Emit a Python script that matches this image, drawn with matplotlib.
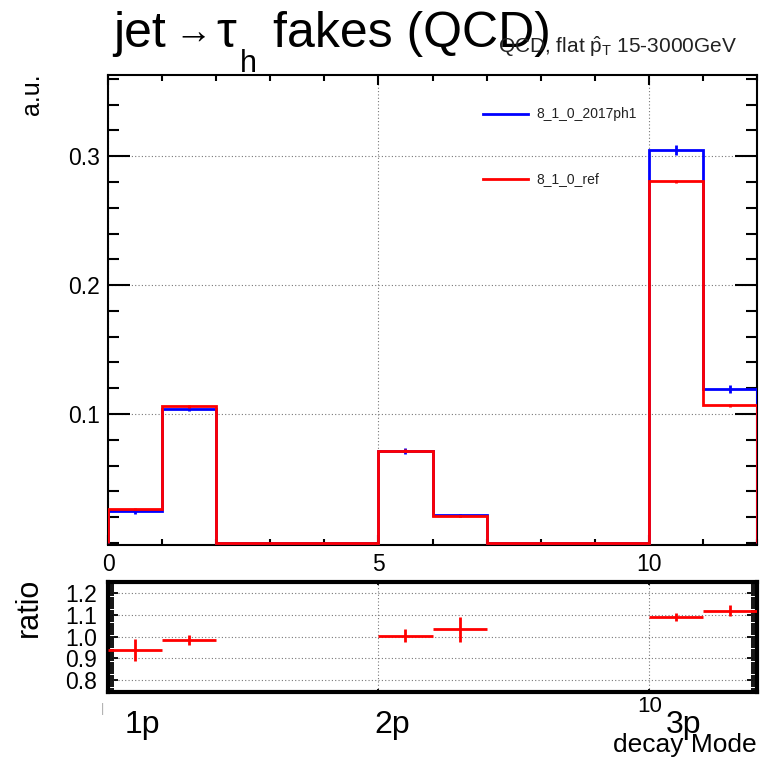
"""jet -> tau_h fakes (QCD): decay-mode comparison with ratio pad, ROOT-like look."""
import numpy as np
import matplotlib; matplotlib.use("Agg")
import matplotlib.pyplot as plt
from matplotlib.lines import Line2D
from matplotlib.ticker import MultipleLocator, FixedLocator

plt.rcParams["font.family"] = ["Liberation Sans", "DejaVu Sans"]
plt.rcParams["mathtext.fontset"] = "custom"
plt.rcParams["mathtext.rm"] = "Liberation Sans"
plt.rcParams["mathtext.it"] = "Liberation Sans"

# ── data ──
edges = np.arange(13)                       # decay mode bins 0..12
new_vals = [0.0246, 0.104, 0, 0, 0, 0.0715, 0.0214, 0, 0, 0, 0.305, 0.1195]
new_errs = [0.002, 0.002, 0, 0, 0, 0.0025, 0.001, 0, 0, 0, 0.004, 0.003]
ref_vals = [0.0264, 0.106, 0, 0, 0, 0.0715, 0.0208, 0, 0, 0, 0.2805, 0.1067]
ref_errs = [0.0008, 0.001, 0, 0, 0, 0.001, 0.0008, 0, 0, 0, 0.0012, 0.0012]
ratio_x = [0.5, 1.5, 5.5, 6.5, 10.5, 11.5]
ratio_y = [0.939, 0.984, 1.003, 1.033, 1.089, 1.12]
ratio_err = [0.051, 0.025, 0.03, 0.057, 0.018, 0.027]
labels = ["8_1_0_2017ph1", "8_1_0_ref"]
BLUE, RED = "#0000ff", "#ff0000"

W, H = 764, 759
fx = lambda x: x / W
fy = lambda y: 1 - y / H

fig = plt.figure(figsize=(7.64, 7.59), dpi=100)
ax = fig.add_axes([fx(108), fy(544.5), fx(757) - fx(108), fy(75) - fy(544.5)])
rx = fig.add_axes([fx(108), fy(691.7), fx(757) - fx(108), fy(581.7) - fy(691.7)])

# ── main pad ──
centers = 0.5 * (edges[:-1] + edges[1:])
grid_kw = dict(color="#777777", ls=(0, (1, 2)), lw=0.8)
for vals, errs, col in [(new_vals, new_errs, BLUE), (ref_vals, ref_errs, RED)]:
    ax.stairs(vals, edges, baseline=0, color=col, lw=2, zorder=3)
    v = np.array(vals); e = np.array(errs); m = e > 0
    ax.vlines(centers[m], v[m] - e[m], v[m] + e[m], color=col, lw=2, zorder=3)
ax.set_xlim(0, 12); ax.set_ylim(-0.0012, 0.363)
ax.set_xticks([0, 5, 10]); ax.set_xticklabels(["0", "5", "10"])
ax.xaxis.set_minor_locator(MultipleLocator(1))
ax.set_yticks([0.1, 0.2, 0.3]); ax.set_yticklabels(["0.1", "0.2", "0.3"])
ax.yaxis.set_minor_locator(MultipleLocator(0.02))
ax.tick_params(which="both", direction="in", top=True, right=True, width=1.5,
               labelsize=16.5, colors="black")
ax.tick_params(axis="x", which="major", length=7.5, pad=6)
ax.tick_params(axis="x", which="minor", length=4)
ax.tick_params(axis="y", which="major", length=16, pad=6)
ax.tick_params(axis="y", which="minor", length=8)
ax.grid(True, which="major", **grid_kw)
for s in ax.spines.values():
    s.set_linewidth(1.5)

# legend drawn by hand, ROOT TLegend style
for i, (lab, col) in enumerate(zip(labels, [BLUE, RED])):
    yy = 114 + 65 * i
    fig.add_artist(Line2D([fx(483), fx(528)], [fy(yy), fy(yy)], color=col, lw=2))
    fig.text(fx(536), fy(yy), lab, fontsize=10, va="center", ha="left", color="#222222")

# ── ratio pad ──
rx.errorbar(ratio_x, ratio_y, xerr=0.5, yerr=ratio_err, fmt="none",
            ecolor=RED, elinewidth=2, capsize=0, zorder=3)
rx.set_xlim(0, 12); rx.set_ylim(0.746, 1.253)
rx.set_yticks([0.8, 0.9, 1.0, 1.1, 1.2])
rx.set_yticklabels(["0.8", "0.9", "1.0", "1.1", "1.2"])
rx.yaxis.set_minor_locator(MultipleLocator(0.01))
rx.set_xticks([5, 10]); rx.set_xticklabels(["", ""])
rx.xaxis.set_minor_locator(FixedLocator([]))
rx.tick_params(which="both", direction="in", top=True, right=True, width=1.3,
               labelsize=16.5)
rx.tick_params(axis="y", which="major", length=7, pad=8)
rx.tick_params(axis="y", which="minor", length=4.5)
rx.tick_params(axis="x", which="major", length=2)
rx.grid(True, which="major", **grid_kw)
for s in rx.spines.values():
    s.set_linewidth(3)

# ── texts ──
fig.text(fx(113), fy(47), "jet", fontsize=36, va="baseline")
fig.text(fx(174), fy(43), "\u2192", fontsize=27, va="baseline")
fig.text(fx(216), fy(47), "\u03c4", fontsize=36, va="baseline")
fig.text(fx(240), fy(72), "h", fontsize=22, va="baseline")
fig.text(fx(273), fy(47), "fakes (QCD)", fontsize=36, va="baseline")
fig.text(fx(498), fy(53), r"QCD, flat $\hat{\mathrm{p}}_{\mathrm{T}}$ 15-3000GeV",
         fontsize=15, va="baseline", color="#222222")
fig.text(fx(32), fy(73), "a.u.", fontsize=18, rotation=90, ha="center", va="top")
fig.text(fx(29), fy(578), "ratio", fontsize=22, rotation=90, ha="center", va="top")
for txt, xc in [("1p", 142), ("2p", 392), ("3p", 684)]:
    fig.text(fx(xc), fy(733), txt, fontsize=23, ha="center", va="baseline")
fig.text(fx(650), fy(712), "10", fontsize=16, ha="center", va="baseline")
fig.text(fx(103), fy(712), "|", fontsize=9, ha="center", va="baseline", color="#aaaaaa")
fig.text(fx(757), fy(752), "decay Mode", fontsize=19, ha="right", va="baseline")

fig.savefig("out.png", dpi=100)
